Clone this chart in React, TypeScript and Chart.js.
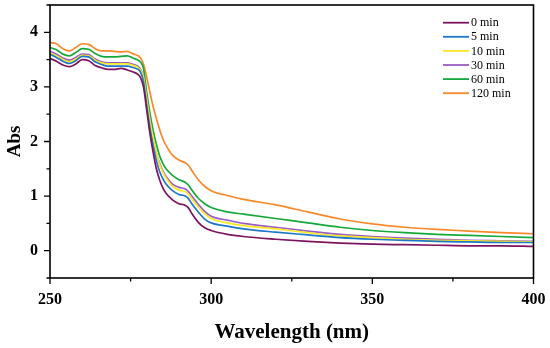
import React, { useEffect, useRef } from "react";
import { Chart, registerables } from "chart.js";

Chart.register(...registerables);

const wavelengths = [250, 252, 254, 256, 258, 260, 262, 264, 266, 268, 270, 272, 274, 276, 277, 278, 279, 280, 281, 282, 283, 284, 285, 286, 288, 290, 292, 293, 294, 296, 298, 300, 305, 310, 320, 330, 340, 350, 360, 370, 380, 390, 400];

const abs0 = [3.52, 3.47, 3.40, 3.37, 3.42, 3.50, 3.48, 3.39, 3.35, 3.32, 3.32, 3.34, 3.31, 3.27, 3.24, 3.18, 3.00, 2.58, 2.15, 1.80, 1.50, 1.30, 1.15, 1.05, 0.93, 0.86, 0.83, 0.78, 0.68, 0.52, 0.42, 0.37, 0.30, 0.26, 0.21, 0.17, 0.14, 0.12, 0.11, 0.10, 0.09, 0.09, 0.08];
const abs5 = [3.60, 3.54, 3.47, 3.43, 3.48, 3.56, 3.55, 3.46, 3.41, 3.38, 3.38, 3.38, 3.38, 3.35, 3.33, 3.28, 3.10, 2.66, 2.25, 1.92, 1.65, 1.45, 1.32, 1.22, 1.10, 1.03, 1.00, 0.95, 0.86, 0.71, 0.58, 0.51, 0.45, 0.40, 0.34, 0.29, 0.24, 0.21, 0.19, 0.17, 0.16, 0.15, 0.15];
const abs10 = [3.62, 3.57, 3.50, 3.46, 3.51, 3.58, 3.57, 3.49, 3.44, 3.42, 3.42, 3.42, 3.42, 3.39, 3.37, 3.31, 3.18, 2.78, 2.38, 2.06, 1.80, 1.58, 1.44, 1.33, 1.18, 1.11, 1.08, 1.03, 0.95, 0.80, 0.68, 0.59, 0.51, 0.46, 0.40, 0.33, 0.27, 0.24, 0.21, 0.19, 0.18, 0.17, 0.16];
const abs30 = [3.65, 3.60, 3.53, 3.49, 3.54, 3.60, 3.59, 3.51, 3.46, 3.44, 3.44, 3.44, 3.44, 3.41, 3.39, 3.33, 3.18, 2.72, 2.33, 2.02, 1.78, 1.60, 1.46, 1.36, 1.22, 1.16, 1.13, 1.08, 1.00, 0.85, 0.72, 0.63, 0.56, 0.50, 0.43, 0.36, 0.30, 0.26, 0.23, 0.21, 0.19, 0.18, 0.17];
const abs60 = [3.72, 3.68, 3.60, 3.57, 3.63, 3.70, 3.69, 3.61, 3.56, 3.55, 3.55, 3.56, 3.57, 3.52, 3.50, 3.46, 3.34, 2.90, 2.52, 2.20, 1.95, 1.74, 1.60, 1.50, 1.38, 1.30, 1.25, 1.20, 1.11, 0.96, 0.86, 0.79, 0.71, 0.67, 0.59, 0.51, 0.43, 0.37, 0.33, 0.30, 0.28, 0.26, 0.24];
const abs120 = [3.81, 3.79, 3.70, 3.66, 3.72, 3.79, 3.78, 3.70, 3.66, 3.66, 3.65, 3.64, 3.65, 3.60, 3.58, 3.54, 3.42, 3.18, 2.90, 2.64, 2.42, 2.22, 2.05, 1.93, 1.75, 1.66, 1.61, 1.56, 1.47, 1.30, 1.18, 1.10, 1.01, 0.94, 0.84, 0.71, 0.58, 0.49, 0.43, 0.39, 0.36, 0.33, 0.31];

const seriesLabels = ["0 min", "5 min", "10 min", "30 min", "60 min", "120 min"];
const seriesValues = [abs0, abs5, abs10, abs30, abs60, abs120];
const seriesColors = ["#7d145f", "#1f77c9", "#f7e825", "#9a5cc6", "#16a83a", "#f7892a"];

const xMajorTicks = [250, 300, 350, 400];
const xMinorTicks = [275, 325, 375];
const yMajorTicks = [0, 1, 2, 3, 4];
const yMinorTicks = [-0.5, 0.5, 1.5, 2.5, 3.5, 4.5];

const SERIF = "'Liberation Serif', 'Times New Roman', serif";

const framePlugin = {
  id: "frameTicks",
  afterDraw(chart: any) {
    const { ctx, chartArea } = chart;
    const xs = chart.scales.x;
    const ys = chart.scales.y;
    ctx.save();
    ctx.strokeStyle = "#000";
    ctx.lineWidth = 1.6;
    ctx.strokeRect(chartArea.left, chartArea.top, chartArea.right - chartArea.left, chartArea.bottom - chartArea.top);
    ctx.lineWidth = 1.3;
    ctx.beginPath();
    for (const v of xMajorTicks) {
      const px = xs.getPixelForValue(v);
      ctx.moveTo(px, chartArea.bottom);
      ctx.lineTo(px, chartArea.bottom + 6);
    }
    for (const v of xMinorTicks) {
      const px = xs.getPixelForValue(v);
      ctx.moveTo(px, chartArea.bottom);
      ctx.lineTo(px, chartArea.bottom + 3.5);
    }
    for (const v of yMajorTicks) {
      const py = ys.getPixelForValue(v);
      ctx.moveTo(chartArea.left, py);
      ctx.lineTo(chartArea.left - 6, py);
    }
    for (const v of yMinorTicks) {
      const py = ys.getPixelForValue(v);
      ctx.moveTo(chartArea.left, py);
      ctx.lineTo(chartArea.left - 3.5, py);
    }
    ctx.stroke();

    // legend inside chart area
    const lx0 = 443;
    const lx1 = 469;
    const ty0 = 22.7;
    const step = 14.1;
    ctx.font = "12px " + SERIF;
    ctx.textBaseline = "middle";
    ctx.textAlign = "left";
    chart.data.datasets.forEach((ds: any, i: number) => {
      const y = ty0 + i * step;
      ctx.strokeStyle = ds.borderColor;
      ctx.lineWidth = 1.8;
      ctx.beginPath();
      ctx.moveTo(lx0, y);
      ctx.lineTo(lx1, y);
      ctx.stroke();
      ctx.fillStyle = "#000";
      ctx.fillText(ds.label, lx1 + 2, y + 0.5);
    });
    ctx.restore();
  },
};

export default function App() {
  const canvasRef = useRef<HTMLCanvasElement | null>(null);

  useEffect(() => {
    const canvas = canvasRef.current;
    if (!canvas) return;
    const datasets = seriesLabels.map((label, i) => ({
      label,
      data: wavelengths.map((w, j) => ({ x: w, y: seriesValues[i][j] })),
      borderColor: seriesColors[i],
      backgroundColor: seriesColors[i],
      borderWidth: 1.7,
      pointRadius: 0,
      cubicInterpolationMode: "monotone" as const,
      fill: false,
    }));
    const chart = new Chart(canvas, {
      type: "line",
      data: { datasets },
      options: {
        animation: false,
        responsive: true,
        maintainAspectRatio: false,
        devicePixelRatio: 1,
        layout: { padding: { top: 5, right: 16.5, left: 0, bottom: 0 } },
        plugins: { legend: { display: false }, tooltip: { enabled: false } },
        scales: {
          x: {
            type: "linear",
            min: 250,
            max: 400,
            afterFit: (s: any) => {
              s.height = 70;
              s.paddingLeft = 0;
              s.paddingRight = 0;
            },
            afterBuildTicks: (s: any) => {
              s.ticks = xMajorTicks.map((v) => ({ value: v }));
            },
            grid: { display: false, drawTicks: false },
            border: { display: false },
            ticks: {
              padding: 12,
              color: "#000",
              maxRotation: 0,
              autoSkip: false,
              font: { family: SERIF, size: 16, weight: "bold" },
            },
            title: {
              display: true,
              text: "Wavelength (nm)",
              color: "#000",
              padding: { top: 0, bottom: 3 },
              font: { family: SERIF, size: 21, weight: "bold" },
            },
          },
          y: {
            type: "linear",
            min: -0.5,
            max: 4.5,
            afterFit: (s: any) => {
              s.width = 50;
              s.paddingTop = 0;
              s.paddingBottom = 0;
            },
            afterBuildTicks: (s: any) => {
              s.ticks = yMajorTicks.map((v) => ({ value: v }));
            },
            grid: { display: false, drawTicks: false },
            border: { display: false },
            ticks: {
              padding: 12,
              color: "#000",
              autoSkip: false,
              font: { family: SERIF, size: 16, weight: "bold" },
            },
            title: {
              display: true,
              text: "Abs",
              color: "#000",
              padding: { top: 4, bottom: 0 },
              font: { family: SERIF, size: 19, weight: "bold" },
            },
          },
        },
      },
      plugins: [framePlugin],
    });
    return () => chart.destroy();
  }, []);

  return (
    <div style={{ position: "fixed", left: 0, top: 0, width: 550, height: 348, background: "#fff" }}>
      <canvas ref={canvasRef} />
    </div>
  );
}
